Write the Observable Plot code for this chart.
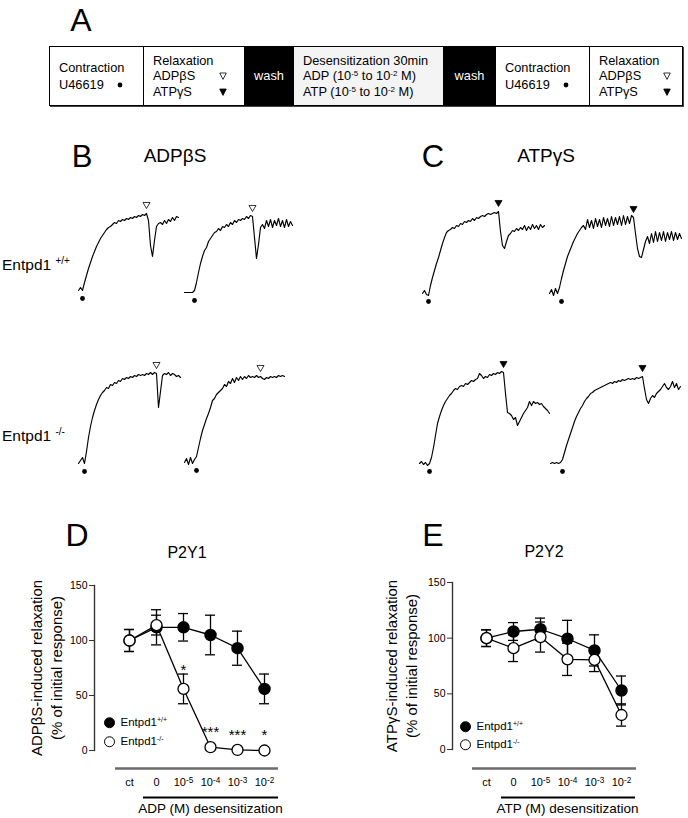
<!DOCTYPE html>
<html><head><meta charset="utf-8">
<script src="https://cdn.jsdelivr.net/npm/d3@7"></script>
<script src="https://cdn.jsdelivr.net/npm/@observablehq/plot@0.6"></script>
<style>
html,body{margin:0;padding:0;background:#fff;}
#fig{position:relative;width:688px;height:818px;overflow:hidden;font-family:"Liberation Sans",Arial,Helvetica,sans-serif;color:#000;}
.c{position:absolute;transform:translate(-50%,-50%);line-height:1;white-space:nowrap;}
.l{position:absolute;transform:translate(0,-50%);line-height:1;white-space:nowrap;}
#boxA{position:absolute;left:49px;top:46px;width:634px;height:60px;display:flex;border:1.5px solid #000;box-sizing:border-box;font-size:12.8px;box-shadow:1px 1px 0 #444;}
#boxA .cell{display:flex;flex-direction:column;justify-content:center;padding-left:9px;box-sizing:border-box;border-right:1px solid #000;line-height:15.5px;white-space:nowrap;}
#boxA .wash{background:#000;color:#fff;align-items:center;padding-left:0;}
#boxA sup{font-size:8px;line-height:0;vertical-align:4px;}
#boxA .k{display:inline-block;}
.leg{position:absolute;display:flex;align-items:center;font-size:11.5px;transform:translate(0,-50%);line-height:1;}
.leg .m{width:11px;height:11px;border-radius:50%;border:1.3px solid #000;box-sizing:border-box;margin-right:6px;}
.leg sup{font-size:7px;line-height:0;vertical-align:4px;}
.side sup{font-size:10px;line-height:0;vertical-align:6px;}
</style></head>
<body>
<div id="fig">
  <div class="c" style="left:81px;top:20px;font-size:32px">A</div>
  <div id="boxA">
    <div class="cell" style="width:94px;line-height:17px">Contraction<div>U46619<svg width="6" height="6" style="margin-left:13px;vertical-align:1px"><circle cx="3" cy="3" r="2.4" fill="#000"/></svg></div></div>
    <div class="cell" style="width:101px">Relaxation
      <div><span class="k" style="width:66px">ADPβS</span><svg width="8" height="8"><polygon points="0.7,1 7.3,1 4,7.4" fill="#fff" stroke="#000" stroke-width="0.8"/></svg></div>
      <div><span class="k" style="width:66px">ATPγS</span><svg width="8" height="8"><polygon points="0.7,1 7.3,1 4,7.4" fill="#000" stroke="#000" stroke-width="0.8"/></svg></div></div>
    <div class="cell wash" style="width:49px">wash</div>
    <div class="cell" style="width:150px;background:#f4f4f4">Desensitization 30min
      <div>ADP (10<sup>-5</sup> to 10<sup>-2</sup> M)</div>
      <div>ATP (10<sup>-5</sup> to 10<sup>-2</sup> M)</div></div>
    <div class="cell wash" style="width:52px">wash</div>
    <div class="cell" style="width:94px;line-height:17px">Contraction<div>U46619<svg width="6" height="6" style="margin-left:13px;vertical-align:1px"><circle cx="3" cy="3" r="2.4" fill="#000"/></svg></div></div>
    <div class="cell" style="flex:1;border-right:none">Relaxation
      <div><span class="k" style="width:64px">ADPβS</span><svg width="8" height="8"><polygon points="0.7,1 7.3,1 4,7.4" fill="#fff" stroke="#000" stroke-width="0.8"/></svg></div>
      <div><span class="k" style="width:64px">ATPγS</span><svg width="8" height="8"><polygon points="0.7,1 7.3,1 4,7.4" fill="#000" stroke="#000" stroke-width="0.8"/></svg></div></div>
  </div>

  <div class="c" style="left:82px;top:156px;font-size:31px">B</div>
  <div class="c" style="left:175px;top:155px;font-size:19px">ADPβS</div>
  <div class="c" style="left:433px;top:156px;font-size:31px">C</div>
  <div class="c" style="left:546px;top:155px;font-size:19px">ATPγS</div>
  <div class="l side" style="left:2px;top:265px;font-size:15.5px">Entpd1 <sup>+/+</sup></div>
  <div class="l side" style="left:2px;top:436px;font-size:15.5px">Entpd1 <sup>-/-</sup></div>

  <div class="c" style="left:77px;top:535px;font-size:32px">D</div>
  <div class="c" style="left:187px;top:553px;font-size:16px">P2Y1</div>
  <div class="c" style="left:433px;top:535px;font-size:32px">E</div>
  <div class="c" style="left:544px;top:552px;font-size:16px">P2Y2</div>

  <div class="leg" style="left:103.5px;top:723px"><div class="m" style="background:#000"></div><span>Entpd1<sup>+/+</sup></span></div>
  <div class="leg" style="left:103.5px;top:742px"><div class="m" style="background:#fff"></div><span>Entpd1<sup>-/-</sup></span></div>
  <div class="leg" style="left:459.5px;top:727px"><div class="m" style="background:#000"></div><span>Entpd1<sup>+/+</sup></span></div>
  <div class="leg" style="left:459.5px;top:745px"><div class="m" style="background:#fff"></div><span>Entpd1<sup>-/-</sup></span></div>
</div>
<script>
// ---------- Isometric tension recordings (B, C): samples every dt seconds ----------
const dt = 2;
// B: ADPβS, Entpd1+/+ (before / after desensitization)
const bWT1 = [0,3,0,8,15,22,28,34,39,44,48,52,55,58,61,63,64,66,68,67,70,69,71,70,72,71,73,72,74,73,75,74,76,75,77,70,45,34,50,64,67,68,66,70,67,71,69,73,70,74,73];
const bWT2 = [0,0,0,0,0,2,10,20,29,36,42,45,51,54,57,60,61,64,62,66,65,68,66,70,68,72,70,73,72,74,73,76,74,77,76,55,34,48,65,68,64,72,66,73,65,72,67,74,66,72,65,73,66,71,67];
// B: ADPβS, Entpd1-/-
const bKO1 = [0,3,6,0,12,26,37,46,53,59,64,68,71,73,76,75,79,78,81,80,83,82,85,84,86,85,87,86,88,87,89,88,89,88,90,89,91,89,91,90,56,72,88,90,89,91,88,90,89,87,88,86];
const bKO2 = [0,4,-2,5,-1,3,6,15,24,32,38,44,49,55,62,64,68,70,72,74,78,76,81,79,84,80,85,82,86,83,86,84,87,85,86,85,87,85,86,84,83,85,84,86,85,86,85,87,86,87,86];
// C: ATPγS, Entpd1+/+
const cWT1 = [0,3,-1,-2,8,16,23,30,36,43,50,56,61,63,64,66,65,68,67,70,69,72,71,73,72,75,73,76,75,77,78,77,79,80,79,80,81,80,82,62,48,45,52,58,60,63,62,65,63,66,64,68,63,67,64,69,65,68,64,69,66,68];
const cWT2 = [0,4,-2,5,0,6,15,23,30,37,42,47,52,56,60,63,66,68,64,74,66,73,65,75,67,74,66,76,68,75,67,77,68,76,69,77,68,78,69,77,70,78,76,60,45,37,36,44,52,57,50,60,51,62,52,61,53,62,52,61,54,62,53,61,54,60,55];
// C: ATPγS, Entpd1-/-
const cKO1 = [0,2,-1,1,-2,0,6,16,28,40,47,53,58,62,65,68,70,73,75,74,77,78,77,80,79,81,83,82,84,85,90,88,85,87,86,89,88,90,89,91,90,92,91,70,51,50,48,44,46,38,42,46,50,53,56,62,58,62,60,61,59,60,57,55,53,50];
const cKO2 = [0,1,0,1,0,1,4,11,18,24,30,36,42,47,51,55,58,62,65,67,70,71,73,74,75,76,77,78,79,80,81,80,82,81,83,82,84,83,84,85,84,85,84,86,85,86,87,75,64,60,65,68,66,70,72,74,77,80,76,74,77,82,76,80,74,77];
const traces = [bWT1, bWT2, bKO1, bKO2, cWT1, cWT2, cKO1, cKO2];
// sample index of U46619 addition (●) and of agonist addition (▽ ADPβS / ▼ ATPγS)
const contractionIdx = [2, 5, 3, 6, 3, 6, 5, 6];
const relaxIdx = [34, 34, 39, 38, 38, 42, 42, 46];
const agonistFilled = [false, false, false, false, true, true, true, true];

// ---------- Concentration-response (D, E) ----------
const cats = ["ct", "0", "10^-5", "10^-4", "10^-3", "10^-2"];
const d_wt = [100, 112, 112, 105, 93, 56];
const d_wtErr = [10, 16, 12.5, 18, 15.5, 13.5];
const d_ko = [100, 114, 56, 3, 0.5, 0];
const d_koErr = [10, 9, 13.5, 0, 0, 0];
const d_stars = ["", "", "*", "***", "***", "*"];
const e_wt = [100, 106, 108, 99.5, 89, 53];
const e_wtErr = [7.5, 8, 10, 16.5, 14, 13];
const e_ko = [100, 91, 101, 81, 80.5, 31];
const e_koErr = [7.5, 12, 13.5, 14.5, 10.5, 10];
const e_stars = ["", "", "", "", "", ""];

// ---------- layout ----------
const fig = document.getElementById("fig");
const traceLayout = [
  {left: 78, base: 290}, {left: 184, base: 292}, {left: 78, base: 463}, {left: 184, base: 462},
  {left: 422, base: 293}, {left: 549, base: 293}, {left: 419, base: 463}, {left: 550, base: 463}
];
function place(svg, left, top) {
  svg.style.position = "absolute";
  svg.style.left = left + "px";
  svg.style.top = top + "px";
  fig.appendChild(svg);
}
const baseStyle = {background: "transparent", overflow: "visible", fontFamily: "'Liberation Sans', Arial, sans-serif", color: "#000"};

traces.forEach((vals, k) => {
  const data = vals.map((v, i) => ({t: i * dt, v}));
  const span = (vals.length - 1) * dt;
  const L = traceLayout[k];
  const svg = Plot.plot({
    width: span + 10, height: 130, margin: 5,
    x: {domain: [0, span], axis: null},
    y: {domain: [-14, 106], axis: null},
    style: baseStyle,
    marks: [
      Plot.line(data, {x: "t", y: "v", stroke: "#000", strokeWidth: 1.15}),
      Plot.dot([data[contractionIdx[k]]], {x: "t", y: () => 0, dy: 8, r: 2.4, fill: "#000", stroke: "none"}),
      Plot.dot([data[relaxIdx[k]]], {x: "t", y: "v", dy: -9, symbol: "triangle", rotate: 180, r: 2.6,
        fill: agonistFilled[k] ? "#000" : "#fff", stroke: "#000", strokeWidth: 0.8})
    ]
  });
  place(svg, L.left - 5, L.base - 111);
});

const ns = "http://www.w3.org/2000/svg";
function supLabels(svg) {
  svg.querySelectorAll('[aria-label="x-axis tick label"] text').forEach(t => {
    const s = t.textContent, k = s.indexOf("^");
    if (k < 0) return;
    t.textContent = "";
    const a = document.createElementNS(ns, "tspan"); a.textContent = s.slice(0, k);
    const b = document.createElementNS(ns, "tspan"); b.textContent = s.slice(k + 1);
    b.setAttribute("dy", "-0.45em"); b.setAttribute("font-size", "0.75em");
    t.append(a, b);
  });
}

function dose(wt, wtErr, ko, koErr, stars, ylab, xtitle, L) {
  const rows = cats.map((c, i) => ({c, wt: wt[i], wtE: wtErr[i], ko: ko[i], koE: koErr[i], star: stars[i]}));
  const eWT = rows.filter(d => d.wtE > 0), eKO = rows.filter(d => d.koE > 0);
  const sw = 1.3;
  const cap = (data, acc) => Plot.ruleY(data, {x1: "c", x2: "c", y: acc, insetLeft: -5, insetRight: -5, strokeWidth: sw});
  const svg = Plot.plot({
    width: L.width, height: L.height,
    marginTop: L.mTop, marginBottom: L.mBottom, marginLeft: L.mLeft, marginRight: L.mRight,
    x: {type: "point", domain: cats, range: L.range, padding: 0},
    y: {domain: [0, 150]},
    style: baseStyle,
    marks: [
      Plot.frame({anchor: "left", stroke: "#333", strokeWidth: 1.4}),
      Plot.axisY({ticks: [0, 50, 100, 150], tickSize: 5, tickPadding: 2, fontSize: 10.5, label: null, stroke: "#333"}),
      Plot.axisX({anchor: "bottom", tickSize: 0, tickPadding: L.tickPad, fontSize: 11, label: null}),
      Plot.ruleY([0], {x1: () => cats[0], x2: () => cats[5], insetLeft: L.grayIn[0], insetRight: L.grayIn[1], dy: L.grayDy, stroke: "#6b6b6b", strokeWidth: 2.5}),
      Plot.ruleY([0], {x1: () => cats[1], x2: () => cats[5], insetLeft: L.blackIn[0], insetRight: L.blackIn[1], dy: L.blackDy, stroke: "#000", strokeWidth: 2}),
      Plot.text([xtitle], {x: () => cats[3], frameAnchor: "bottom", lineAnchor: "middle", dy: L.titleDy, text: d => d, fontSize: 13.5}),
      Plot.text([ylab], {frameAnchor: "left", textAnchor: "middle", lineAnchor: "middle", dx: L.ylabDx, rotate: -90, text: d => d, fontSize: 15, lineHeight: 1.33}),
      // Entpd1+/+
      Plot.ruleX(eWT, {x: "c", y1: d => d.wt - d.wtE, y2: d => d.wt + d.wtE, strokeWidth: sw}),
      cap(eWT, d => d.wt + d.wtE),
      cap(eWT, d => d.wt - d.wtE),
      Plot.line(rows, {x: "c", y: "wt", strokeWidth: sw}),
      Plot.dot(rows, {x: "c", y: "wt", r: 5.5, fill: "#000", stroke: "#000"}),
      // Entpd1-/-
      Plot.ruleX(eKO, {x: "c", y1: d => d.ko - d.koE, y2: d => d.ko + d.koE, strokeWidth: sw}),
      cap(eKO, d => d.ko + d.koE),
      cap(eKO, d => d.ko - d.koE),
      Plot.line(rows, {x: "c", y: "ko", strokeWidth: sw}),
      Plot.dot(rows, {x: "c", y: "ko", r: 5.5, fill: "#fff", stroke: "#000", strokeWidth: sw}),
      Plot.text(rows.filter(d => d.star), {x: "c", y: d => Math.max(d.ko + d.koE, d.ko + 10), text: "star", dy: -4, fontSize: 15})
    ]
  });
  supLabels(svg);
  place(svg, L.left, L.top);
}

dose(d_wt, d_wtErr, d_ko, d_koErr, d_stars, "ADPβS-induced relaxation\n(% of initial response)", "ADP (M) desensitization",
  {left: 0, top: 520, width: 344, height: 298, mTop: 65, mBottom: 68, mLeft: 94, mRight: 64, range: [127, 266],
   grayIn: [-14, -14], grayDy: 18, tickPad: 28, blackIn: [-13, -14], blackDy: 47, titleDy: 58, ylabDx: -49});
dose(e_wt, e_wtErr, e_ko, e_koErr, e_stars, "ATPγS-induced relaxation\n(% of initial response)", "ATP (M) desensitization",
  {left: 344, top: 520, width: 344, height: 298, mTop: 62, mBottom: 69, mLeft: 108, mRight: 51, range: [140, 278],
   grayIn: [-14, -15], grayDy: 19, tickPad: 29, blackIn: [-12, -14], blackDy: 48, titleDy: 59, ylabDx: -52});

// legends must be on top of plot svgs
document.querySelectorAll(".leg").forEach(el => fig.appendChild(el));
</script>
</body></html>
